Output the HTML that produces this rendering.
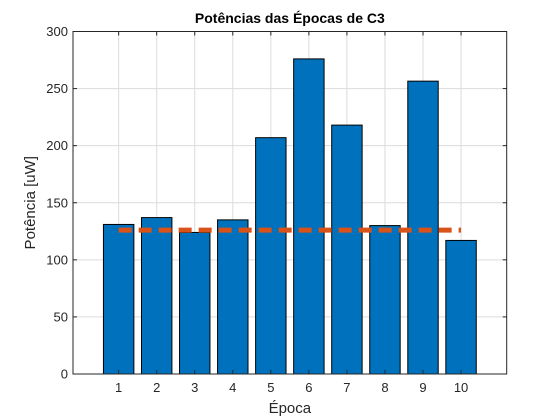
<!DOCTYPE html>
<html><head><meta charset="utf-8"><style>
body{margin:0;background:#fff;}
svg{font-family:"Liberation Sans","DejaVu Sans",sans-serif;display:block}
</style></head><body>
<svg id="chart" width="560" height="420">
<rect width="560" height="420" fill="#fff"/>
<g id="grid"></g><g id="bars"></g><g id="mean"></g><g id="axes"></g>
</svg>
<script>
const categories=[1,2,3,4,5,6,7,8,9,10];
const values=[131,137,124,135,207,276,218,130,256.5,117];
const meanValue=[126];
const yTicks=[0,50,100,150,200,250,300];
const xTicks=[1,2,3,4,5,6,7,8,9,10];

const L=73,R=506.7,T=31.5,B=374;
const xMin=-0.2,xMax=11.2,yMin=0,yMax=300;
const xs=v=>L+(v-xMin)/(xMax-xMin)*(R-L);
const ys=v=>B-(v-yMin)/(yMax-yMin)*(B-T);
const NS="http://www.w3.org/2000/svg";
function mk(tag,attrs,parent){const e=document.createElementNS(NS,tag);for(const k in attrs)e.setAttribute(k,attrs[k]);document.getElementById(parent).appendChild(e);return e;}

xTicks.forEach(t=>{const e=mk('line',{x1:xs(t),x2:xs(t),y1:T,y2:B,stroke:'#dcdcdc','stroke-width':1},'grid');

});
yTicks.forEach(t=>{const e=mk('line',{x1:L,x2:R,y1:ys(t),y2:ys(t),stroke:'#dcdcdc','stroke-width':1},'grid');

});

const bw=0.8;
categories.forEach((c,i)=>{const x0=xs(c-bw/2),x1=xs(c+bw/2);
const e=mk('rect',{x:x0,y:ys(values[i]),width:x1-x0,height:ys(0)-ys(values[i]),fill:'#0072bd',stroke:'#000','stroke-width':1},'bars');

});

const m=mk('line',{x1:xs(categories[0]),x2:xs(categories[categories.length-1]),y1:ys(meanValue[0]),y2:ys(meanValue[0]),stroke:'#d95319','stroke-width':5,'stroke-dasharray':'13,7'},'mean');



const box=mk('rect',{x:L,y:T,width:R-L,height:B-T,fill:'none',stroke:'#262626','stroke-width':1},'axes');


xTicks.forEach(t=>{mk('line',{x1:xs(t),x2:xs(t),y1:B,y2:B-4,stroke:'#262626'},'axes');mk('line',{x1:xs(t),x2:xs(t),y1:T,y2:T+4,stroke:'#262626'},'axes');
const e=mk('text',{x:xs(t),y:B+18,'text-anchor':'middle','font-size':13,fill:'#262626'},'axes');e.textContent=t;

});
yTicks.forEach(t=>{mk('line',{x1:L,x2:L+4,y1:ys(t),y2:ys(t),stroke:'#262626'},'axes');mk('line',{x1:R,x2:R-4,y1:ys(t),y2:ys(t),stroke:'#262626'},'axes');
const e=mk('text',{x:L-5,y:ys(t)+4.5,'text-anchor':'end','font-size':13,fill:'#262626'},'axes');e.textContent=t;

});

const tt=mk('text',{x:(L+R)/2,y:23,'text-anchor':'middle','font-size':14,'font-weight':'bold',fill:'#000'},'axes');tt.textContent='Potências das Épocas de C3';


const xl=mk('text',{x:(L+R)/2,y:413,'text-anchor':'middle','font-size':15,fill:'#262626'},'axes');xl.textContent='Época';


const yl=mk('text',{x:0,y:0,'text-anchor':'middle','font-size':15,fill:'#262626',transform:'translate(35,'+((T+B)/2)+') rotate(-90)'},'axes');yl.textContent='Potência [uW]';


</script>
</body></html>
